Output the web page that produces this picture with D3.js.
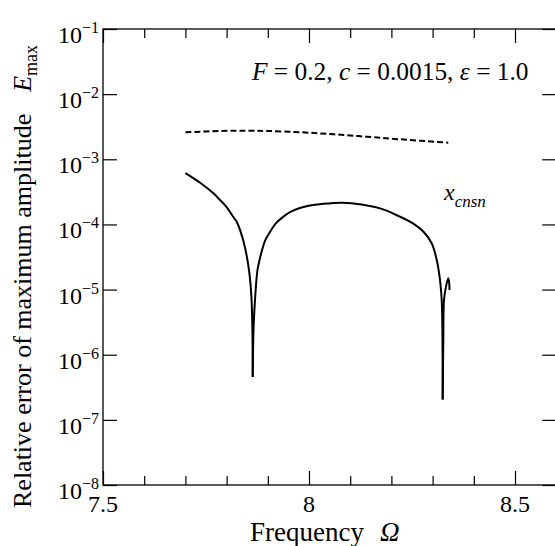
<!DOCTYPE html>
<html>
<head>
<meta charset="utf-8">
<script src="https://cdn.jsdelivr.net/npm/d3@7"></script>
<style>
  html, body { margin: 0; padding: 0; background: #fff; }
</style>
</head>
<body>
<svg id="chart" width="555" height="546"></svg>
<script>
// Frequency (Omega) and relative error for the x_cnsn solution (solid)
const solidOmega = [7.700, 7.735, 7.768, 7.784, 7.800, 7.816, 7.8245, 7.842, 7.855, 7.8604, 7.8626, 7.8634,
  7.8653, 7.8689, 7.875, 7.8811, 7.8932, 7.9053, 7.920, 7.9376, 7.9539, 7.978, 8.0024, 8.0308, 8.0794,
  8.128, 8.1765, 8.2167, 8.2532, 8.2774, 8.2978, 8.310, 8.318, 8.3221, 8.3238, 8.3245,
  8.3260, 8.3277, 8.3325, 8.3381, 8.3405, 8.3410];
const solidError = [6.15e-4, 4.41e-4, 3.01e-4, 2.37e-4, 1.85e-4, 1.31e-4, 1.10e-4, 5.19e-5, 1.86e-5, 7.4e-6, 2.39e-6, 4.55e-7,
  2.39e-6, 6.92e-6, 2.0e-5, 3.05e-5, 5.57e-5, 7.66e-5, 1.05e-4, 1.31e-4, 1.55e-4, 1.79e-4, 1.95e-4, 2.06e-4, 2.16e-4,
  2.03e-4, 1.73e-4, 1.35e-4, 1.03e-4, 7.8e-5, 5.13e-5, 2.84e-5, 1.40e-5, 6.92e-6, 2.39e-6, 2.05e-7,
  1.68e-6, 6.92e-6, 1.11e-5, 1.49e-5, 1.22e-5, 9.84e-6];

// Comparison curve (dashed)
const dashedOmega = [7.700, 7.785, 7.850, 7.900, 7.980, 8.060, 8.140, 8.220, 8.338];
const dashedError = [2.60e-3, 2.72e-3, 2.74e-3, 2.72e-3, 2.60e-3, 2.42e-3, 2.22e-3, 2.03e-3, 1.80e-3];

// Axis ticks
const xMajorTicks = [7.5, 8, 8.5];
const xMinorTicks = [7.6, 7.7, 7.8, 7.9, 8.1, 8.2, 8.3, 8.4, 8.6];
const yTickExponents = [-1, -2, -3, -4, -5, -6, -7, -8];

const FONT = "'Liberation Serif', 'Times New Roman', serif";

const svg = d3.select("#chart");
const plotLeft = 103, plotRight = 556.2, plotTop = 29, plotBottom = 485;

const x = d3.scaleLinear().domain([7.5, 8.6]).range([plotLeft, plotRight]);
const y = d3.scaleLog().domain([1e-8, 1e-1]).range([plotBottom, plotTop]);

const yTicks = yTickExponents.map(e => Math.pow(10, e));

// Tick marks on all four sides, pointing inward
svg.append("g").attr("transform", `translate(0,${plotBottom})`)
  .call(d3.axisBottom(x).tickValues(xMajorTicks).tickSizeInner(-14).tickSizeOuter(0).tickFormat(""));
svg.append("g").attr("transform", `translate(0,${plotBottom})`)
  .call(d3.axisBottom(x).tickValues(xMinorTicks).tickSizeInner(-9).tickSizeOuter(0).tickFormat(""));
svg.append("g").attr("transform", `translate(0,${plotTop})`)
  .call(d3.axisTop(x).tickValues(xMajorTicks).tickSizeInner(-14).tickSizeOuter(0).tickFormat(""));
svg.append("g").attr("transform", `translate(0,${plotTop})`)
  .call(d3.axisTop(x).tickValues(xMinorTicks).tickSizeInner(-9).tickSizeOuter(0).tickFormat(""));
svg.append("g").attr("transform", `translate(${plotLeft},0)`)
  .call(d3.axisLeft(y).tickValues(yTicks).tickSizeInner(-14).tickSizeOuter(0).tickFormat(""));
svg.append("g").attr("transform", `translate(${plotRight},0)`)
  .call(d3.axisRight(y).tickValues(yTicks).tickSizeInner(-14).tickSizeOuter(0).tickFormat(""));

svg.selectAll(".domain").remove();
svg.selectAll(".tick line").attr("stroke", "#000").attr("stroke-width", 1.2);

// Plot frame
svg.append("rect")
  .attr("x", plotLeft).attr("y", plotTop)
  .attr("width", plotRight - plotLeft).attr("height", plotBottom - plotTop)
  .attr("fill", "none").attr("stroke", "#000").attr("stroke-width", 1.3);

// x tick labels
svg.append("g").selectAll("text").data(xMajorTicks).join("text")
  .attr("x", d => x(d)).attr("y", plotBottom + 27)
  .attr("text-anchor", "middle")
  .attr("font-family", FONT)
  .attr("font-size", 24)
  .text(d => d3.format("")(d));

// y tick labels: 10 with superscript exponent
const yLab = svg.append("g").selectAll("text").data(yTickExponents).join("text")
  .attr("x", plotLeft - 4).attr("y", d => y(Math.pow(10, d)) + 14)
  .attr("text-anchor", "end")
  .attr("font-family", FONT);
yLab.append("tspan").attr("font-size", 24).text("10");
yLab.append("tspan").attr("font-size", 16).attr("dy", -10).text(d => "\u2212" + Math.abs(d));

// Curves
const line = d3.line().curve(d3.curveCatmullRom.alpha(0.5)).x(d => x(d[0])).y(d => y(d[1]));
svg.append("path")
  .datum(dashedOmega.map((o, i) => [o, dashedError[i]]))
  .attr("d", line).attr("fill", "none").attr("stroke", "#000")
  .attr("stroke-width", 2).attr("stroke-dasharray", "6,3");

// Solid curve: drawn as smooth pieces that meet at the two sharp minima
const solidPts = solidOmega.map((o, i) => [o, solidError[i]]);
const minima = [11, 35];
const pieces = [];
let start = 0;
minima.forEach(m => { pieces.push(solidPts.slice(start, m + 1)); start = m; });
pieces.push(solidPts.slice(start));
svg.append("g").selectAll("path").data(pieces).join("path")
  .attr("d", line)
  .attr("fill", "none").attr("stroke", "#000").attr("stroke-width", 2)
  .attr("stroke-linejoin", "miter");

// Parameter annotation
const ann = svg.append("text").attr("x", 252).attr("y", 80)
  .attr("font-family", FONT).attr("font-size", 25.4);
ann.append("tspan").attr("font-style", "italic").text("F");
ann.append("tspan").text(" = 0.2, ");
ann.append("tspan").attr("font-style", "italic").text("c");
ann.append("tspan").text(" = 0.0015, ");
ann.append("tspan").attr("font-style", "italic").text("\u03b5");
ann.append("tspan").text(" = 1.0");

// Curve label
const cl = svg.append("text").attr("x", 444).attr("y", 200)
  .attr("font-family", FONT).attr("font-style", "italic");
cl.append("tspan").attr("font-size", 24).text("x");
cl.append("tspan").attr("font-size", 17).attr("dy", 7).text("cnsn");

// Axis titles
const xt = svg.append("text").attr("x", 250).attr("y", 541)
  .attr("font-family", FONT).attr("font-size", 27);
xt.append("tspan").text("Frequency");
xt.append("tspan").attr("dx", 16).attr("font-style", "italic").text("\u03a9");

const yt = svg.append("text")
  .attr("transform", "translate(31,508) rotate(-90)")
  .attr("font-family", FONT).attr("font-size", 26);
yt.append("tspan").text("Relative error of maximum amplitude");
yt.append("tspan").attr("dx", 22).attr("font-style", "italic").text("E");
yt.append("tspan").attr("font-size", 18).attr("dy", 6).text("max");
</script>
</body>
</html>
